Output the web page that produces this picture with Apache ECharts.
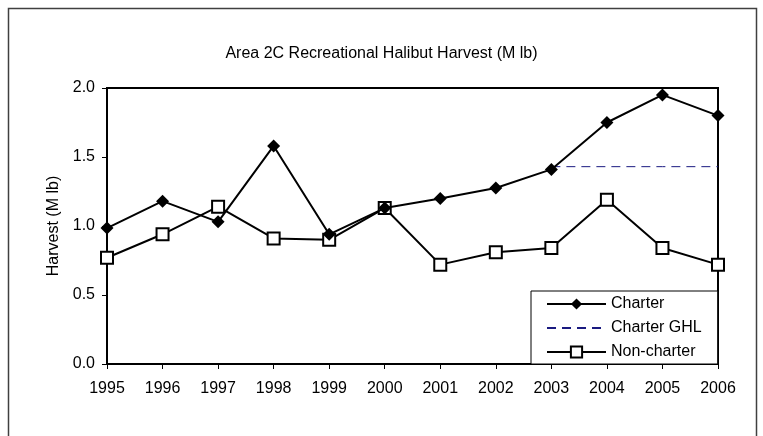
<!DOCTYPE html>
<html>
<head>
<meta charset="utf-8">
<script src="https://cdn.jsdelivr.net/npm/echarts@6/dist/echarts.min.js"></script>
<style>
  html, body { margin: 0; padding: 0; background: #fff; }
  #chart { width: 763px; height: 436px; }
</style>
</head>
<body>
<div id="chart"></div>
<script>
const years = ["1995", "1996", "1997", "1998", "1999", "2000", "2001", "2002", "2003", "2004", "2005", "2006"];
const charter = [0.985, 1.18, 1.03, 1.58, 0.94, 1.13, 1.20, 1.275, 1.41, 1.75, 1.95, 1.80];
const charterGhl = [null, null, null, null, null, null, null, null, 1.43, 1.43, 1.43, 1.43];
const nonCharter = [0.77, 0.94, 1.14, 0.91, 0.90, 1.13, 0.72, 0.81, 0.84, 1.19, 0.84, 0.72];

const font = "Liberation Sans, Arial, sans-serif";
const chart = echarts.init(document.getElementById("chart"), null, { renderer: "canvas" });

chart.setOption({
  animation: false,
  title: {
    text: "Area 2C Recreational Halibut Harvest (M lb)",
    left: "center",
    top: 41,
    textStyle: { fontFamily: font, fontSize: 16, fontWeight: "normal", color: "#000" },
  },
  graphic: [
    {
      type: "rect",
      shape: { x: 8.5, y: 8.5, width: 748, height: 440 },
      style: { fill: "none", stroke: "#404040", lineWidth: 1.5 },
      silent: true,
    },
  ],
  grid: { left: 107, right: 45, top: 88, bottom: 72, show: true, borderColor: "#000", borderWidth: 2 },
  legend: {
    orient: "vertical",
    left: 531,
    top: 291,
    itemWidth: 59,
    itemHeight: 14,
    itemGap: 8,
    padding: [5, 16, 4, 15],
    borderColor: "#000",
    borderWidth: 1,
    backgroundColor: "#fff",
    data: [
      "Charter",
      { name: "Charter GHL", itemStyle: { color: "rgba(0,0,0,0)", borderWidth: 0 } },
      "Non-charter",
    ],
    textStyle: { fontFamily: font, fontSize: 16, color: "#000" },
  },
  xAxis: {
    type: "category",
    data: years,
    boundaryGap: false,
    axisLine: { lineStyle: { color: "#000", width: 2 } },
    axisTick: { length: 5, lineStyle: { color: "#000", width: 1 } },
    axisLabel: { fontFamily: font, fontSize: 16, color: "#000", margin: 17 },
  },
  yAxis: {
    type: "value",
    min: 0,
    max: 2,
    interval: 0.5,
    name: "Harvest (M lb)",
    nameLocation: "middle",
    nameGap: 45,
    nameTextStyle: { fontFamily: font, fontSize: 16, color: "#000" },
    axisLine: { show: true, lineStyle: { color: "#000", width: 2 } },
    axisTick: { show: true, length: 5, lineStyle: { color: "#000", width: 1 } },
    axisLabel: { fontFamily: font, fontSize: 16, color: "#000", margin: 12, formatter: (v) => v.toFixed(1) },
    splitLine: { show: false },
  },
  series: [
    {
      name: "Non-charter",
      type: "line",
      data: nonCharter,
      z: 2,
      symbol: "rect",
      symbolSize: 12,
      lineStyle: { color: "#000", width: 2 },
      itemStyle: { color: "#fff", borderColor: "#000", borderWidth: 2 },
    },
    {
      name: "Charter GHL",
      type: "line",
      data: charterGhl,
      z: 2,
      symbol: "none",
      lineStyle: { color: "#1a1a80", width: 1, type: [9, 6] },
      itemStyle: { color: "#1a1a80" },
    },
    {
      name: "Charter",
      type: "line",
      data: charter,
      z: 3,
      symbol: "diamond",
      symbolSize: 13,
      lineStyle: { color: "#000", width: 2 },
      itemStyle: { color: "#000" },
    },
  ],
});
</script>
</body>
</html>
